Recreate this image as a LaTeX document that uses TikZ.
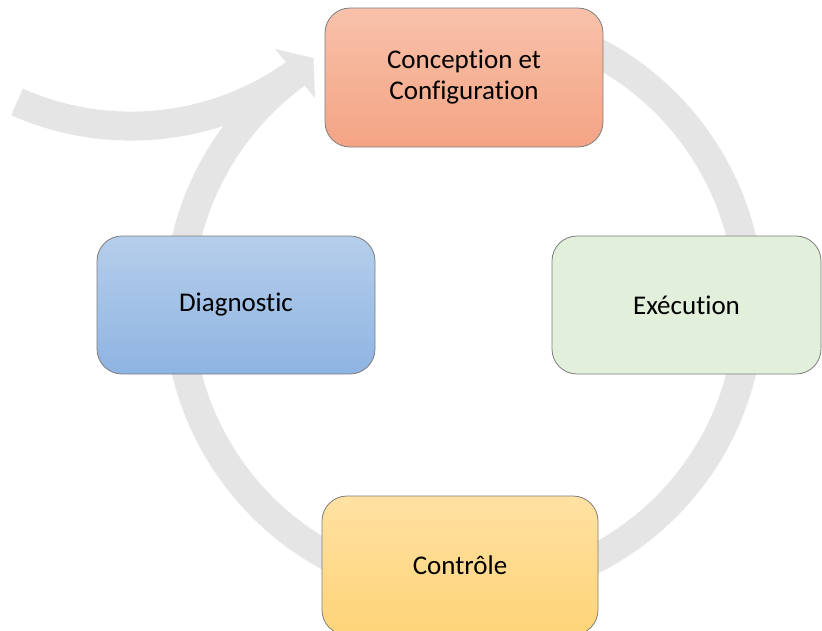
\documentclass[tikz,border=0pt]{standalone}
\usepackage{fontspec}
\setmainfont{Carlito}[Ligatures=NoCommon]
\definecolor{ringgrey}{RGB}{229,229,229}
\definecolor{boxline}{RGB}{125,125,125}
\definecolor{orangetop}{RGB}{248,193,170}
\definecolor{orangebot}{RGB}{244,164,132}
\definecolor{bluetop}{RGB}{182,206,235}
\definecolor{bluebot}{RGB}{142,180,226}
\definecolor{greenfill}{RGB}{226,239,218}
\definecolor{yellowtop}{RGB}{255,225,162}
\definecolor{yellowbot}{RGB}{255,212,120}
\begin{document}
\begin{tikzpicture}[x=1pt,y=1pt,
  band/.style={draw=ringgrey, line width=29pt, line cap=butt},
  stepbox/.style={draw=boxline, line width=0.8pt, rounded corners=25pt,
    align=center, text=black, inner sep=0pt,
    font=\fontsize{27}{31}\selectfont}]
\useasboundingbox (0,0) rectangle (822,-630);
% ring (cycle arrow body)
\coordinate (ringc) at (464,-305);
\coordinate (tailc) at (131.1,155.5);
\draw[band] (ringc) ++(80:285.5pt) arc[start angle=80, end angle=-235.5, radius=285.5pt];
% tail of the arrow
\draw[band] (tailc) ++(-113.9:281.6pt) arc[start angle=-113.9, end angle=-53, radius=281.6pt];
% arrow head
\fill[ringgrey] (285,-61) -- (275,-49) -- (313.5,-58) -- (315,-98) -- (305,-86) -- cycle;
% boxes
\node[stepbox, minimum width=278pt, minimum height=139pt,
  top color=orangetop, bottom color=orangebot] (concept) at (464,-77.5)
  {Conception et\\Configuration};
\node[stepbox, minimum width=269pt, minimum height=138pt,
  fill=greenfill] (exec) at (686.5,-305) {Exécution};
\node[stepbox, minimum width=276pt, minimum height=139pt,
  top color=yellowtop, bottom color=yellowbot] (ctrl) at (460,-565.5) {Contrôle};
\node[stepbox, minimum width=278pt, minimum height=138pt,
  top color=bluetop, bottom color=bluebot] (diag) at (236,-305) {Diagnostic};
\end{tikzpicture}
\end{document}
